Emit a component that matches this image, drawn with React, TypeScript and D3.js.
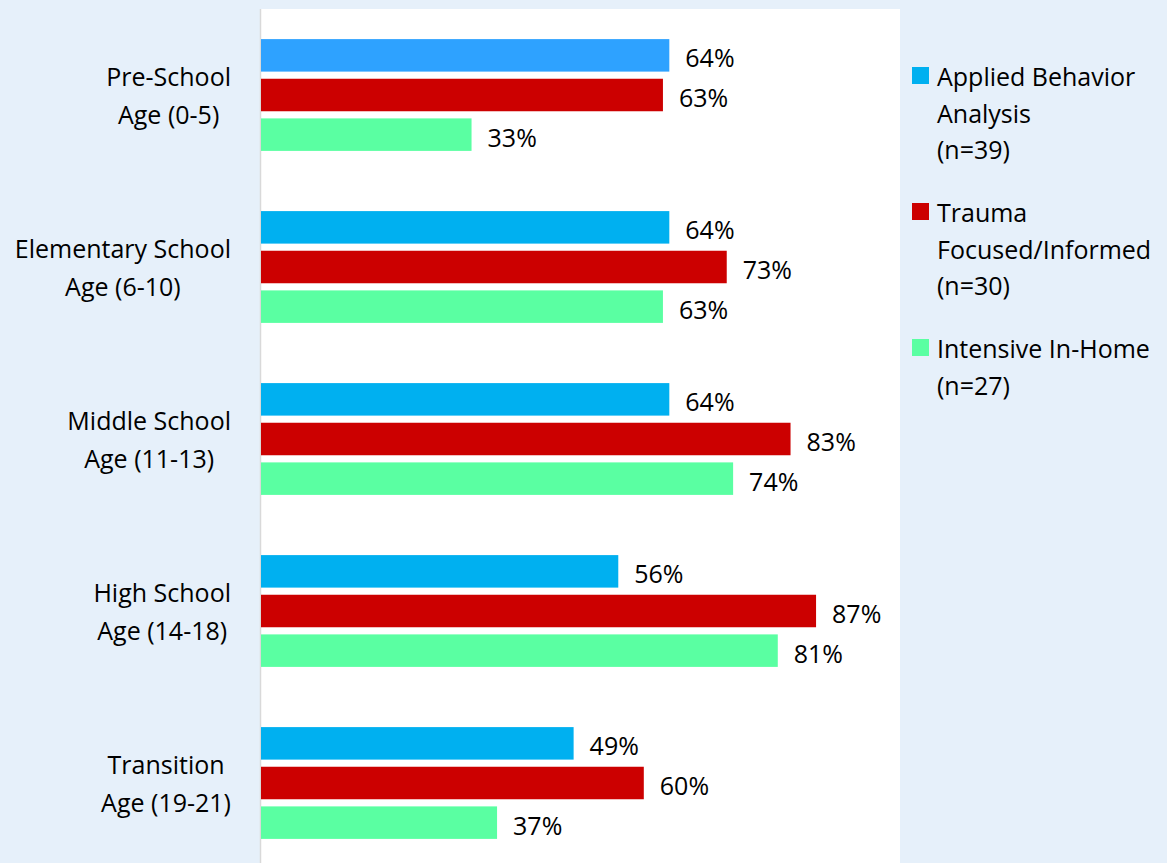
import React from "react";
import * as d3 from "d3";

const categories: string[][] = [
  ["Pre-School", "Age (0-5)"],
  ["Elementary School", "Age (6-10)"],
  ["Middle School", "Age (11-13)"],
  ["High School", "Age (14-18)"],
  ["Transition", "Age (19-21)"],
];
const seriesNames = ["aba", "trauma", "inhome"];
const abaValues = [64, 64, 64, 56, 49];
const traumaValues = [63, 73, 83, 87, 60];
const inHomeValues = [33, 63, 74, 81, 37];
const seriesColors = ["#00B0F0", "#CC0000", "#5AFFA2"];
const firstBarColor = "#2EA2FF";
const legendItems: string[][] = [
  ["Applied Behavior", "Analysis", "(n=39)"],
  ["Trauma", "Focused/Informed", "(n=30)"],
  ["Intensive In-Home", "(n=27)"],
];

const W = 1167;
const H = 863;
const FONT = "'Open Sans', 'Noto Sans', sans-serif";
const FS = 25;

let ctx: CanvasRenderingContext2D | null = null;
function measure(t: string): number {
  if (!ctx) ctx = document.createElement("canvas").getContext("2d");
  if (!ctx) return t.length * FS * 0.5;
  ctx.font = `${FS}px ${FONT}`;
  return ctx.measureText(t).width;
}

export default function App() {
  const values = [abaValues, traumaValues, inHomeValues];
  const x = d3.scaleLinear().domain([0, 100]).range([261, 899]);
  const y0 = d3
    .scaleBand<number>()
    .domain(categories.map((_, i) => i))
    .range([9, 869])
    .paddingInner(0.35)
    .paddingOuter(0.175);
  const y1 = d3
    .scaleBand<string>()
    .domain(seriesNames)
    .range([0, y0.bandwidth()])
    .paddingInner(0.18);

  const plotLeft = 260;
  const plotRight = 900;
  const labelRight = 231;
  const lineH = 38;

  const legendY = [76, 212, 348];
  const legendLineH = 36.5;

  return (
    <div style={{ position: "absolute", left: 0, top: 0 }}>
      <svg width={W} height={H} style={{ display: "block" }} fontFamily={FONT}>
        <rect x={0} y={0} width={W} height={H} fill="#E6F0FA" />
        <rect x={plotLeft} y={9} width={plotRight - plotLeft} height={H} fill="#FFFFFF" />
        <line x1={plotLeft + 0.5} x2={plotLeft + 0.5} y1={9} y2={H} stroke="#D9D9D9" strokeWidth={1.5} />

        {categories.map((lines, ci) => {
          const center = (y0(ci) as number) + y0.bandwidth() / 2;
          const widths = lines.map(measure);
          const maxW = Math.max(...widths);
          const cx = labelRight - maxW / 2;
          return (
            <g key={"cat" + ci}>
              {lines.map((ln, li) => (
                <text
                  key={li}
                  x={cx}
                  y={center + (li - (lines.length - 1) / 2) * lineH}
                  textAnchor="middle"
                  dominantBaseline="central"
                  fontSize={FS}
                  fill="#000"
                >
                  {ln}
                </text>
              ))}
            </g>
          );
        })}

        {categories.map((_, ci) => (
          <g key={"g" + ci} transform={`translate(0,${y0(ci)})`}>
            {seriesNames.map((s, si) => {
              const v = values[si][ci];
              const by = y1(s) as number;
              const color = ci === 0 && si === 0 ? firstBarColor : seriesColors[si];
              return (
                <g key={s}>
                  <rect x={x(0)} y={by} width={x(v) - x(0)} height={y1.bandwidth()} fill={color} />
                  <text
                    x={x(v) + 16}
                    y={by + y1.bandwidth() / 2 + 2}
                    dominantBaseline="central"
                    fontSize={FS}
                    fill="#000"
                  >
                    {v}%
                  </text>
                </g>
              );
            })}
          </g>
        ))}

        {legendItems.map((lines, i) => (
          <g key={"leg" + i}>
            <rect x={912} y={legendY[i] - 9} width={17} height={17} fill={seriesColors[i]} />
            {lines.map((ln, li) => (
              <text
                key={li}
                x={937}
                y={legendY[i] + li * legendLineH}
                dominantBaseline="central"
                fontSize={FS}
                fill="#000"
              >
                {ln}
              </text>
            ))}
          </g>
        ))}
      </svg>
    </div>
  );
}
